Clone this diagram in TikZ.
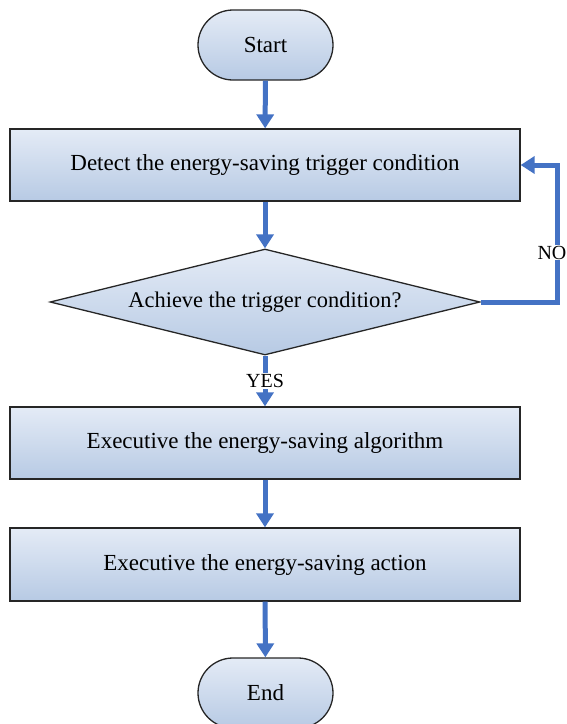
\documentclass[tikz,border=0pt]{standalone}
\usepackage{fontspec}
\setmainfont{Liberation Serif}
\usetikzlibrary{arrows.meta,shapes.geometric}
\definecolor{flowblue}{HTML}{4472C4}
\definecolor{filltop}{HTML}{E4EBF6}
\definecolor{fillbot}{HTML}{B7CAE4}
\tikzset{
  every node/.style={font=\fontsize{23}{26}\selectfont},
  boxstyle/.style={draw=black!85, line width=1.3pt, top color=filltop, bottom color=fillbot, rectangle, minimum width=510pt, inner sep=0pt},
  termstyle/.style={draw=black!85, line width=1.3pt, top color=filltop, bottom color=fillbot, rectangle, rounded corners=35pt, minimum width=135pt, minimum height=70pt, inner sep=0pt},
  decstyle/.style={draw=black!85, line width=1.3pt, top color=filltop, bottom color=fillbot, diamond, aspect=4, minimum width=430pt, minimum height=106pt, inner sep=0pt, font=\fontsize{22.4}{25}\selectfont},
  flowarrow/.style={draw=flowblue, line width=5pt, -{Triangle[length=14pt,width=17pt]}},
  lbl/.style={fill=white, inner sep=1pt, font=\fontsize{20}{22}\selectfont}
}
\begin{document}
\begin{tikzpicture}[x=1pt,y=-1pt]
\useasboundingbox (0,0) rectangle (567,724);
\clip (0,0) rectangle (567,724);
\node[termstyle] (start) at (265.5,45) {Start};
\node[boxstyle, minimum height=72pt] (detect) at (265,165) {Detect the energy-saving trigger condition};
\node[decstyle] (dec) at (265,302) {Achieve the trigger condition?};
\node[boxstyle, minimum height=72pt] (alg) at (265,443) {Executive the energy-saving algorithm};
\node[boxstyle, minimum height=73pt] (act) at (265,564.5) {Executive the energy-saving action};
\node[termstyle] (end) at (265.5,693) {End};
\coordinate (noc) at (557,302);
\draw[flowarrow] (start) -- (detect);
\draw[flowarrow] (detect) -- (dec);
\draw[flowarrow] (dec) -- node[lbl, pos=0.5] {YES} (alg);
\draw[flowarrow] (alg) -- (act);
\draw[flowarrow] (act) -- (end);
\draw[flowarrow] (dec.east) -- (noc) |- node[lbl, pos=0.18, xshift=-5pt] {NO} (detect.east);
\end{tikzpicture}
\end{document}
